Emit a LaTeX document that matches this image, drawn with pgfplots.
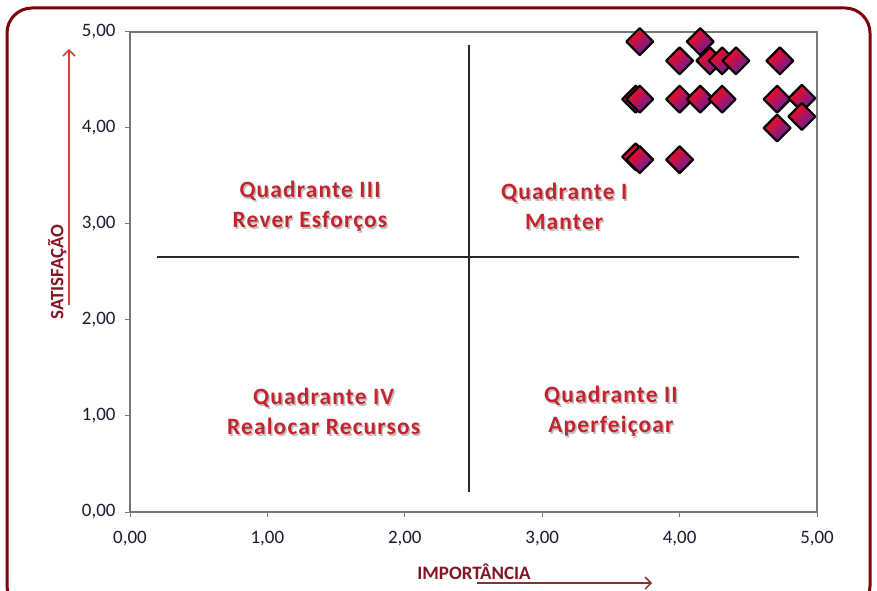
\documentclass[border=0pt]{standalone}
\usepackage{pgfplots}
\pgfplotsset{compat=1.18}
\usetikzlibrary{arrows.meta}
\usepackage{fontspec}
\setmainfont{Carlito}
\newfontfamily\qfont[LetterSpace=5]{Carlito}

\definecolor{framered}{RGB}{125,0,10}
\definecolor{qred}{RGB}{195,35,45}
\definecolor{labred}{RGB}{130,20,35}
\definecolor{arrred}{RGB}{220,60,60}
\definecolor{arrbrown}{RGB}{135,50,50}
\definecolor{ticktext}{RGB}{25,25,45}
\definecolor{mred}{RGB}{255,10,20}
\definecolor{mmid}{RGB}{215,15,60}
\definecolor{mpurple}{RGB}{95,30,165}
\definecolor{axgray}{RGB}{120,120,120}

\pgfdeclareplotmark{gdiamond}{%
  \shadedraw[draw=black, line width=2.2bp, line join=round, top color=mred, middle color=mmid, bottom color=mpurple, shading angle=45]
    (0pt,1.414\pgfplotmarksize) -- (1.414\pgfplotmarksize,0pt) -- (0pt,-1.414\pgfplotmarksize) -- (-1.414\pgfplotmarksize,0pt) -- cycle;
}
\tikzset{
  qshadow/.style={align=center, font=\qfont\bfseries\fontsize{23.5}{30}\selectfont, text=black, opacity=0.25, xshift=1.5bp, yshift=-2bp},
  qlab/.style={align=center, font=\qfont\bfseries\fontsize{23.5}{30}\selectfont, text=qred},
}

\begin{document}
\begin{tikzpicture}
\useasboundingbox (0,0) rectangle (877bp,591bp);
\begin{scope}
\clip (0,0) rectangle (877bp,591bp);
\draw[line width=3bp, framered, rounded corners=25bp] (7bp,-20bp) rectangle (870bp,583bp);
\end{scope}
\begin{axis}[
  at={(130bp,79bp)}, anchor=south west,
  scale only axis, width=687bp, height=480bp,
  xmin=0, xmax=5, ymin=0, ymax=5,
  xtick={0,1,2,3,4,5}, ytick={0,1,2,3,4,5},
  xticklabels={{0,00},{1,00},{2,00},{3,00},{4,00},{5,00}},
  yticklabels={{0,00},{1,00},{2,00},{3,00},{4,00},{5,00}},
  clip=false,
  axis line style={draw=axgray, line width=1.3bp},
  tick style={draw=axgray, line width=1bp},
  tick align=outside, major tick length=5bp,
  tick pos=left,
  ticklabel style={font=\fontsize{19}{19}\selectfont, text=ticktext},
  xticklabel style={yshift=-11bp},
  yticklabel style={xshift=-6bp},
]
\addplot[draw={rgb,255:red,40;green,40;blue,40}, line width=1.8bp] coordinates {(2.47,0.21) (2.47,4.86)};
\addplot[draw={rgb,255:red,40;green,40;blue,40}, line width=1.8bp] coordinates {(0.20,2.66) (4.87,2.66)};
\addplot[only marks, mark=gdiamond, mark size=9.5bp] coordinates {
(3.71,4.90) (4.15,4.90)
(4.00,4.70) (4.22,4.70) (4.31,4.70) (4.41,4.70) (4.73,4.70)
(3.68,4.30) (3.71,4.30) (4.00,4.30) (4.15,4.30) (4.31,4.30) (4.71,4.30) (4.89,4.31)
(4.89,4.12) (4.71,4.00)
(3.68,3.70) (3.71,3.67) (4.00,3.67)
};
\node[qshadow] at (rel axis cs:0.262,0.6375) {Quadrante III\\Rever Esforços};
\node[qlab] at (rel axis cs:0.262,0.6375) {Quadrante III\\Rever Esforços};
\node[qshadow] at (rel axis cs:0.632,0.6375) {Quadrante I\\Manter};
\node[qlab] at (rel axis cs:0.632,0.6375) {Quadrante I\\Manter};
\node[qshadow] at (rel axis cs:0.282,0.21) {Quadrante IV\\Realocar Recursos};
\node[qlab] at (rel axis cs:0.282,0.21) {Quadrante IV\\Realocar Recursos};
\node[qshadow] at (rel axis cs:0.70,0.21) {Quadrante II\\Aperfeiçoar};
\node[qlab] at (rel axis cs:0.70,0.21) {Quadrante II\\Aperfeiçoar};
\node[rotate=90, font=\bfseries\fontsize{19}{19}\selectfont, text=labred] at (rel axis cs:-0.106,0.5) {SATISFAÇÃO};
\node[font=\bfseries\fontsize{19}{19}\selectfont, text=labred] at (rel axis cs:0.5007,-0.124) {IMPORTÂNCIA};
\draw[arrred, line width=1.5bp, -{Straight Barb[length=6bp,width=12bp]}] (rel axis cs:-0.0888,0.431) -- (rel axis cs:-0.0888,0.9646);
\draw[arrbrown, line width=1.5bp, -{Straight Barb[length=6bp,width=12bp]}] (rel axis cs:0.505,-0.148) -- (rel axis cs:0.760,-0.148);
\end{axis}
\end{tikzpicture}
\end{document}
